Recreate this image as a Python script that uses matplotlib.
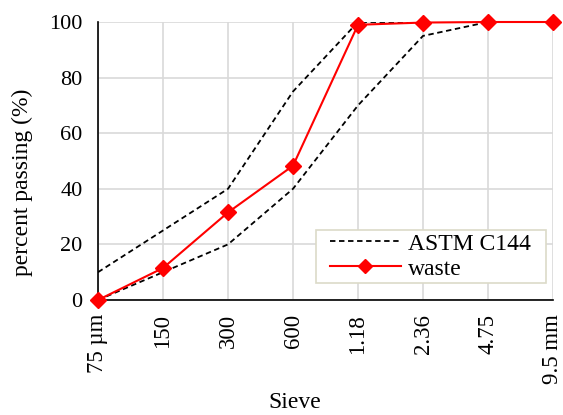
import matplotlib
matplotlib.use("Agg")
import matplotlib.pyplot as plt
from matplotlib.patches import Rectangle

sieves = ["75 µm", "150", "300", "600", "1.18", "2.36", "4.75", "9.5 mm"]
upper_limit = [10, 25, 40, 75, 100, 100, 100, 100]
lower_limit = [0, 10, 20, 40, 70, 95, 100, 100]
waste = [0, 11.5, 31.5, 48.3, 99, 99.8, 100, 100]

plt.rcParams['font.family'] = ['Liberation Serif', 'DejaVu Serif']

W, H = 563, 415
fig = plt.figure(figsize=(W / 100, H / 100), dpi=100)
ax = fig.add_axes([98 / W, 1 - 300 / H, 455 / W, 278 / H])

x = list(range(len(sieves)))
ax.plot(x, upper_limit, color='black', linestyle=(0, (3, 2)), linewidth=1.3, label='ASTM C144')
ax.plot(x, lower_limit, color='black', linestyle=(0, (3, 2)), linewidth=1.3, label='_nolegend_')
ax.plot(x, waste, color='#ff0000', linewidth=1.5, marker='D', markersize=8.5, label='waste', clip_on=False, zorder=5)

ax.set_xlim(0, 7)
ax.set_ylim(0, 100)
ax.set_xticks(x)
ax.set_xticklabels(sieves, rotation=90, fontsize=16.5)
ax.set_yticks([0, 20, 40, 60, 80, 100])
ax.tick_params(axis='y', labelsize=16, length=0, pad=11)
ax.tick_params(axis='x', length=0, pad=10)
ax.grid(True, color='#d9d9d9', linewidth=1.2)
ax.set_axisbelow(True)
for s in ['top', 'right']:
    ax.spines[s].set_visible(False)
ax.spines['left'].set_color('black')
ax.spines['bottom'].set_color('black')
ax.spines['left'].set_linewidth(1.2)
ax.spines['bottom'].set_linewidth(1.2)

fig.text(22 / W, 1 - 182 / H, 'percent passing (%)', fontsize=17, rotation=90, ha='center', va='center')
fig.text(295 / W, 1 - 402 / H, 'Sieve', fontsize=17, ha='center', va='center')

# legend frame
frame = Rectangle((316 / W, 1 - 283 / H), 230 / W, 53 / H, transform=fig.transFigure,
                  facecolor='white', edgecolor='#dcdac8', linewidth=1.2, zorder=8, clip_on=False)
ax.add_patch(frame)
leg = ax.legend(loc='upper left', bbox_to_anchor=(330 / W, 1 - 233 / H), bbox_transform=fig.transFigure,
                fontsize=17, frameon=False, borderpad=0, borderaxespad=0, handlelength=3.0,
                handletextpad=0.3, labelspacing=0.15, markerscale=0.85)
leg.set_zorder(9)

fig.savefig('out.png', dpi=100)
